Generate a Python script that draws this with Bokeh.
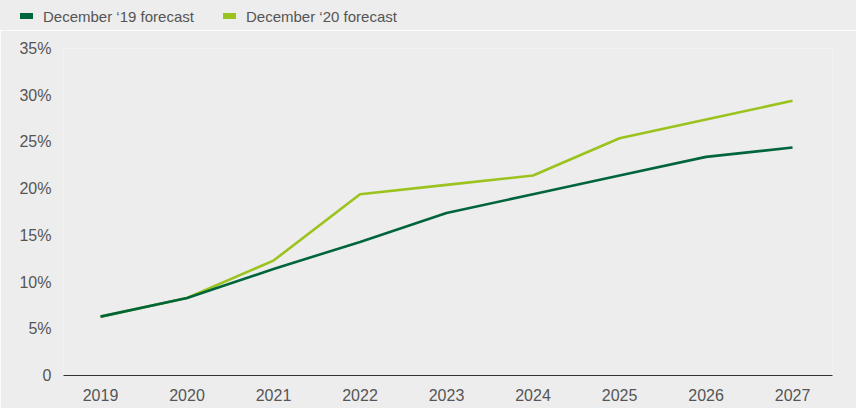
from bokeh.plotting import figure
from bokeh.layouts import column
from bokeh.models import FixedTicker, Range1d, Div
from bokeh.embed import file_html
from bokeh.resources import INLINE

years = [2019, 2020, 2021, 2022, 2023, 2024, 2025, 2026, 2027]
dec19 = [6.3, 8.3, 11.4, 14.3, 17.4, 19.4, 21.4, 23.4, 24.4]
dec20 = [6.3, 8.3, 12.3, 19.4, 20.4, 21.4, 25.4, 27.4, 29.4]
series_names = ["December \u201819 forecast", "December \u201820 forecast"]
y_ticks = [0, 5, 10, 15, 20, 25, 30, 35]
y_labels = ["0", "5%", "10%", "15%", "20%", "25%", "30%", "35%"]

DARK = "#00653d"
LIGHT = "#9cc31d"
BG = "#ededed"
TXT = "#555555"
FONT = "Liberation Sans"

# ---- legend strip (HTML) ----
legend_x = [20, 223]
parts = []
for name, col, lx in zip(series_names, [DARK, LIGHT], legend_x):
    parts.append(
        f'<span style="position:absolute;left:{lx}px;top:13px;width:13px;height:6px;background:{col};"></span>'
        f'<span style="position:absolute;left:{lx + 23}px;top:8px;line-height:17px;white-space:nowrap;">{name}</span>'
    )
html = (f'<div style="position:relative;width:856px;height:30px;background:{BG};'
        f"font-family:'{FONT}';font-size:15px;color:{TXT};\">" + "".join(parts) + "</div>")
lg = Div(text=html, width=856, height=30, margin=(0, 0, 0, 0))

# ---- main chart ----
p = figure(width=856, height=378, output_backend="svg", toolbar_location=None,
           x_range=Range1d(2018.572, 2027.462), y_range=Range1d(0, 35),
           min_border_left=63, min_border_right=24, min_border_top=18, min_border_bottom=33)
p.background_fill_color = BG
p.border_fill_color = BG
p.outline_line_color = None
p.grid.visible = False

p.line(years, dec20, line_color=LIGHT, line_width=2.6)
p.line(years, dec19, line_color=DARK, line_width=2.6)

xa = p.xaxis[0]
xa.ticker = FixedTicker(ticks=years)
xa.axis_line_color = "#333333"
xa.axis_line_width = 1.2
xa.major_tick_line_color = None
xa.major_tick_out = 0
xa.major_tick_in = 0
xa.minor_tick_line_color = None
xa.major_label_standoff = 13
xa.major_label_text_font = FONT
xa.major_label_text_font_size = "16px"
xa.major_label_text_color = TXT

ya = p.yaxis[0]
ya.ticker = FixedTicker(ticks=y_ticks)
ya.major_label_overrides = {t: s for t, s in zip(y_ticks, y_labels)}
ya.axis_line_color = None
ya.major_tick_line_color = None
ya.major_tick_out = 0
ya.major_tick_in = 0
ya.minor_tick_line_color = None
ya.major_label_standoff = 12
ya.major_label_text_font = FONT
ya.major_label_text_font_size = "16px"
ya.major_label_text_color = TXT

layout = column(lg, p, spacing=0)
open("out.html", "w").write(file_html(layout, INLINE))
